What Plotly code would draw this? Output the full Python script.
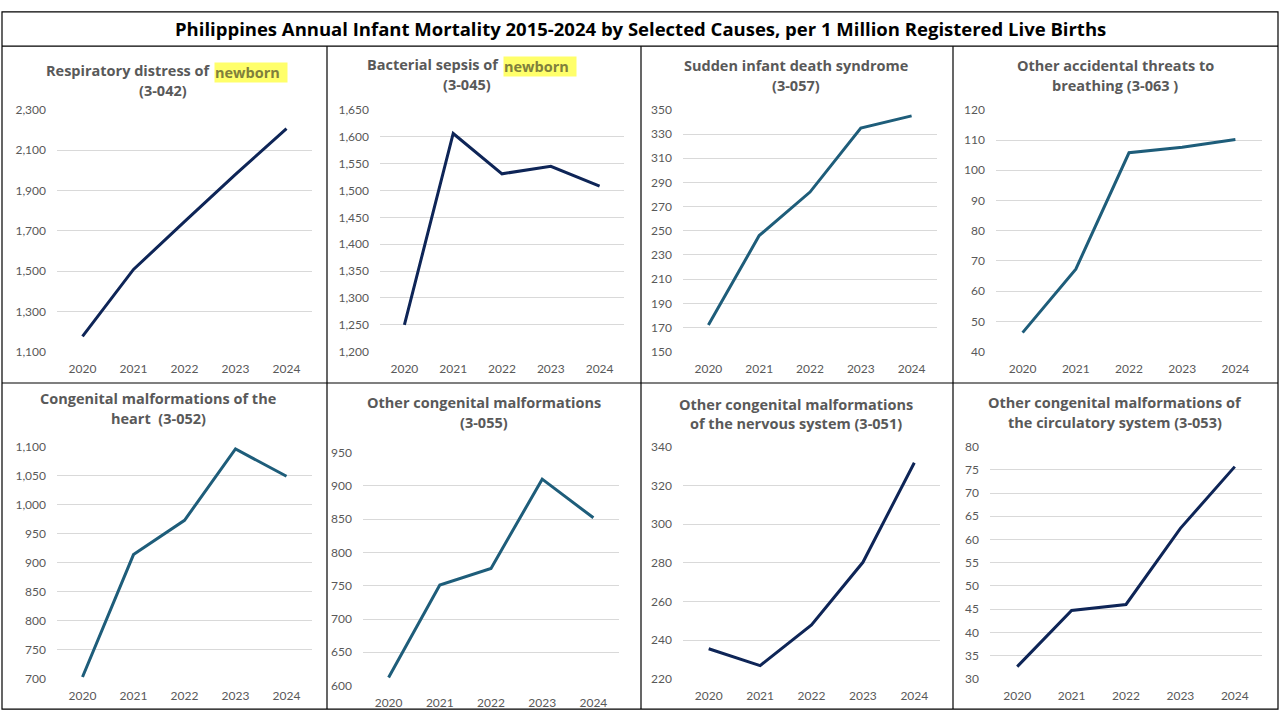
import plotly.graph_objects as go

W, H = 1280, 720

years = ["2020", "2021", "2022", "2023", "2024"]

resp_distress = [1176, 1508, 1745, 1980, 2207]
bact_sepsis = [1250, 1606, 1531, 1545, 1508]
sids = [172, 246, 282, 335, 345]
accidental_breathing = [46.3, 67.3, 105.8, 107.6, 110.2]
heart_malform = [703, 914, 973, 1096, 1049]
other_malform = [612, 751, 776, 910, 852]
nervous_malform = [235.5, 226.8, 247.8, 280.2, 331.7]
circulatory_malform = [32.6, 44.7, 46.0, 62.4, 75.7]

title_top = ["Respiratory distress of ", "Bacterial sepsis of ", "Sudden infant death syndrome",
             "Other accidental threats to", "Congenital malformations of the",
             "Other congenital malformations", "Other congenital malformations",
             "Other congenital malformations of"]
title_bottom = ["(3-042)", "(3-045)", "(3-057)", "breathing (3-063 )", "heart  (3-052)",
                "(3-055)", "of the nervous system (3-051)", "the circulatory system (3-053)"]

NAVY = "#0e2557"
TEAL = "#1e5d7a"
GREY = "#595959"

# panel layout in pixels: plot x0, x1, y top, y bottom, title centre x, title line y's
panels = [
    dict(y=resp_distress, c=NAVY, px=(57, 312), py=(104, 351), r=(1100, 2300), d=200, tx=163, ty=(64, 84), hl=214),
    dict(y=bact_sepsis, c=NAVY, px=(380, 624), py=(104, 351), r=(1200, 1650), d=50, tx=467, ty=(58, 78), hl=503),
    dict(y=sids, c=TEAL, px=(683, 937), py=(104, 351), r=(150, 350), d=20, tx=796, ty=(59, 79)),
    dict(y=accidental_breathing, c=TEAL, px=(996, 1262), py=(104, 351), r=(40, 120), d=10, tx=1115, ty=(59, 79)),
    dict(y=heart_malform, c=TEAL, px=(57, 312), py=(448, 685), r=(700, 1100), d=50, tx=158, ty=(399, 419)),
    dict(y=other_malform, c=TEAL, px=(363, 619), py=(454, 692), r=(600, 950), d=50, tx=484, ty=(403, 423)),
    dict(y=nervous_malform, c=NAVY, px=(683, 940), py=(448, 685), r=(220, 340), d=20, tx=796, ty=(405, 424)),
    dict(y=circulatory_malform, c=NAVY, px=(990, 1262), py=(448, 685), r=(30, 80), d=5, tx=1115, ty=(403, 423)),
]

fig = go.Figure()
annotations = []
layout = {}
tick_font = dict(family="Lato", size=12, color=GREY)

for i, p in enumerate(panels):
    n = "" if i == 0 else str(i + 1)
    fig.add_trace(go.Scatter(x=years, y=p["y"], mode="lines",
                             line=dict(color=p["c"], width=3),
                             xaxis="x" + n, yaxis="y" + n, showlegend=False))
    layout["xaxis" + n] = dict(
        domain=[p["px"][0] / W, p["px"][1] / W], anchor="y" + n, type="category",
        range=[-0.5, 4.5], showgrid=False, zeroline=False, showline=False, ticks="",
        tickfont=tick_font, ticklabelstandoff=8)
    layout["yaxis" + n] = dict(
        domain=[1 - p["py"][1] / H, 1 - p["py"][0] / H], anchor="x" + n,
        range=p["r"], dtick=p["d"], tick0=p["r"][0], tickformat=",",
        showgrid=True, gridcolor="#d9d9d9", gridwidth=1, zeroline=False, showline=False,
        ticks="", tickfont=tick_font, ticklabelstandoff=10)

    tfont = dict(family="Open Sans", size=14.5, color=GREY, weight="bold")
    if "hl" in p:
        annotations.append(dict(x=p["hl"] / W, y=1 - p["ty"][0] / H, xref="paper", yref="paper",
                                text=title_top[i], showarrow=False, xanchor="right",
                                yanchor="middle", font=tfont, borderpad=0))
        annotations.append(dict(x=p["hl"] / W, y=1 - (p["ty"][0] + 2) / H, xref="paper", yref="paper",
                                text="newborn\u00a0\u00a0", showarrow=False, xanchor="left",
                                yanchor="middle", font=dict(tfont, color="#80803c"),
                                bgcolor="#ffff6a", borderpad=0))
    else:
        annotations.append(dict(x=p["tx"] / W, y=1 - p["ty"][0] / H, xref="paper", yref="paper",
                                text=title_top[i], showarrow=False, xanchor="center",
                                yanchor="middle", font=tfont))
    annotations.append(dict(x=p["tx"] / W, y=1 - p["ty"][1] / H, xref="paper", yref="paper",
                            text=title_bottom[i], showarrow=False, xanchor="center",
                            yanchor="middle", font=tfont))

annotations.append(dict(x=0.5, y=1 - 21 / H, xref="paper", yref="paper",
                        text="Philippines Annual Infant Mortality 2015-2024 by Selected Causes, per 1 Million Registered Live Births",
                        showarrow=False, xanchor="center", yanchor="middle",
                        font=dict(family="Open Sans", size=18.5, color="#000000", weight="bold")))

# frame lines
border = dict(color="#000000", width=1.2)
shapes = [
    dict(type="rect", xref="paper", yref="paper", x0=2 / W, x1=1278 / W, y0=1 - 716 / H, y1=1 - 4 / H, line=border),
    dict(type="line", xref="paper", yref="paper", x0=2 / W, x1=1278 / W, y0=1 - 39 / H, y1=1 - 39 / H, line=border),
    dict(type="line", xref="paper", yref="paper", x0=2 / W, x1=1278 / W, y0=1 - 383 / H, y1=1 - 383 / H, line=border),
]
for xv in (327, 641, 953):
    shapes.append(dict(type="line", xref="paper", yref="paper", x0=xv / W, x1=xv / W,
                       y0=1 - 716 / H, y1=1 - 39 / H, line=border))

fig.update_layout(width=W, height=H, margin=dict(l=0, r=0, t=0, b=0),
                  paper_bgcolor="white", plot_bgcolor="white",
                  annotations=annotations, shapes=shapes, **layout)

fig.write_html("out.html", config={"displayModeBar": False},
               post_script="document.body.style.margin='0';document.body.style.overflow='hidden';")
